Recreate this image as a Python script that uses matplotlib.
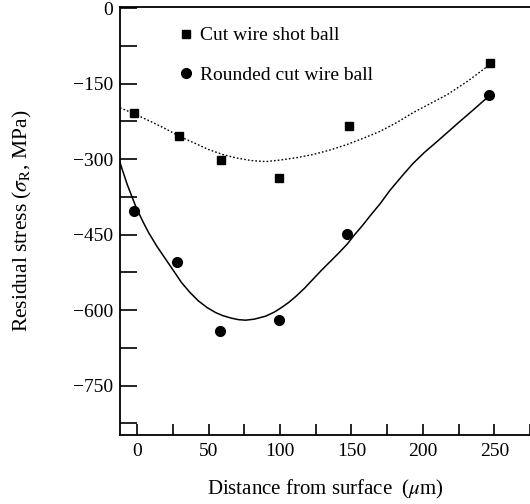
import numpy as np
import matplotlib.pyplot as plt
from matplotlib.ticker import MultipleLocator

plt.rcParams['font.family'] = ['Liberation Serif', 'DejaVu Serif']
plt.rcParams['mathtext.fontset'] = 'stix'

# measured points
x_sq = [-2, 29, 59, 99, 148, 247]
cut_wire = [-208, -254, -301, -337, -234, -109]
x_ci = [-2, 28, 58, 99, 147, 246]
rounded = [-404, -504, -641, -620, -448, -172]

# trend lines
x_dot = [-12, -2, 10, 20, 29, 40, 50, 60, 70, 80, 90, 100, 112, 123, 135, 147, 158, 170,
         182, 193, 205, 217, 231, 240, 247]
y_dot = [-198, -210, -226, -240, -254, -268, -281, -291, -298, -303, -305, -302, -297, -291,
         -282, -271, -259, -245, -227, -208, -190, -172, -146, -127, -112]
x_sol = [-12, -7, -1, 4, 8, 14, 20, 26, 31, 37, 43, 49, 55, 60, 66, 71, 76, 82, 90, 96, 101,
         106, 111, 117, 123, 129, 135, 141, 147, 152, 158, 163, 170, 177, 185, 193, 201, 210,
         218, 226, 235, 245]
y_sol = [-307, -350, -394, -424, -446, -474, -499, -524, -545, -565, -582, -595, -605, -611,
         -616, -619, -620, -618, -612, -604, -595, -585, -573, -557, -539, -521, -504, -487,
         -469, -451, -431, -413, -389, -362, -335, -309, -287, -265, -245, -225, -203, -178]

fig = plt.figure(figsize=(5.3, 5.04), dpi=100)
ax = fig.add_axes([0.2264, 0.137, 0.7736, 0.849])

ax.plot(x_dot, y_dot, color='black', lw=1.0, linestyle=(0, (1.2, 1.5)))
ax.plot(x_sol, y_sol, color='black', lw=1.1)
ax.plot(x_sq, cut_wire, 's', color='black', ms=6, label='Cut wire shot ball')
ax.plot(x_ci, rounded, 'o', color='black', ms=7, label='Rounded cut wire ball')

ax.set_xlim(-12, 275)
ax.set_ylim(-848, 2)
ax.xaxis.set_major_locator(MultipleLocator(50))
ax.xaxis.set_minor_locator(MultipleLocator(25))
ax.yaxis.set_minor_locator(MultipleLocator(75))
ax.set_yticks([0, -150, -300, -450, -600, -750])
ax.set_yticklabels(['0', '\u2212150', '\u2212300', '\u2212450', '\u2212600', '\u2212750'])
ax.tick_params(axis='y', which='both', direction='in', length=12, width=1.2, pad=5, labelsize=14)
ax.tick_params(axis='x', which='both', direction='in', length=8, width=1.2, pad=6, labelsize=14)
ax.spines['right'].set_visible(False)
for s in ['left', 'bottom', 'top']:
    ax.spines[s].set_linewidth(1.3)

ax.set_xlabel('Distance from surface  ($\\mu$m)', fontsize=15, labelpad=13)
ax.set_ylabel('Residual stress ($\\sigma_{\\rm R}$, MPa)', fontsize=15.5, labelpad=28)

ax.legend(loc='upper left', bbox_to_anchor=(0.095, 0.995), frameon=False, fontsize=14,
          handletextpad=0.2, labelspacing=1.15, handlelength=1.0)

fig.savefig('out.png', dpi=100)
